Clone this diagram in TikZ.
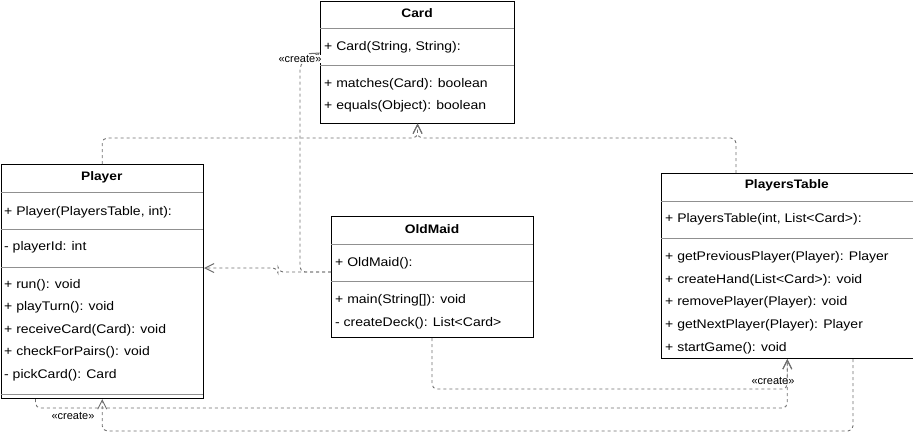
\documentclass[tikz,border=0pt]{standalone}
\usepackage{fontspec}
\setmainfont{Liberation Sans}[FakeStretch=1.12]
\newfontfamily\stereofont{Liberation Sans}
\usepackage{tikz}
\usetikzlibrary{arrows.meta}
\definecolor{linkgray}{HTML}{6E6E6E}
\definecolor{sepgray}{HTML}{909090}

\begin{document}
\begin{tikzpicture}[x=1pt,y=-1pt,
  classbox/.style={draw=black,line width=1pt,inner sep=0pt,anchor=north west},
  sep/.style={draw=sepgray,line width=0.9pt},
  title/.style={inner sep=0pt,font=\fontsize{12.3}{14}\selectfont\bfseries},
  row/.style={inner sep=0pt,anchor=west,text height=9pt,text depth=2.5pt,font=\fontsize{12.5}{14}\selectfont},
  dep/.style={draw=linkgray,line width=0.9pt,dash pattern=on 3pt off 3pt,rounded corners=5pt,
    -{Straight Barb[length=9pt,width=9pt,line width=1pt]}},
  stereo/.style={inner sep=0.5pt,font=\stereofont\fontsize{11}{12}\selectfont}]
\useasboundingbox (0,0) rectangle (913,445);

% Card
\node[classbox,minimum width=194pt,minimum height=122pt] (card) at (320,0.5) {};
\node[title] (card-title) at (417,13) {Card};
\draw[sep] (320,28) -- (514,28);
\draw[sep] (320,65) -- (514,65);
\node[row] (card-c1) at (324,47) {+ Card(String, String):};
\node[row] (card-m1) at (324,84) {+ matches(Card): boolean};
\node[row] (card-m2) at (324,106) {+ equals(Object): boolean};

% Player
\node[classbox,minimum width=202.5pt,minimum height=234pt] (player) at (0.5,164) {};
\node[title] (player-title) at (101.75,177) {Player};
\draw[sep] (0.5,192) -- (203,192);
\draw[sep] (0.5,229) -- (203,229);
\draw[sep] (0.5,267) -- (203,267);
\draw[sep] (0.5,394) -- (203,394);
\node[row] (player-c1) at (4,212) {+ Player(PlayersTable, int):};
\node[row] (player-a1) at (4,247) {- playerId: int};
\node[row] (player-m1) at (4,285) {+ run(): void};
\node[row] (player-m2) at (4,307) {+ playTurn(): void};
\node[row] (player-m3) at (4,330) {+ receiveCard(Card): void};
\node[row] (player-m4) at (4,352) {+ checkForPairs(): void};
\node[row] (player-m5) at (4,375) {- pickCard(): Card};

% OldMaid
\node[classbox,minimum width=202pt,minimum height=121pt] (oldmaid) at (331,216) {};
\node[title] (oldmaid-title) at (432,229) {OldMaid};
\draw[sep] (331,244) -- (533,244);
\draw[sep] (331,281) -- (533,281);
\node[row] (oldmaid-c1) at (335,263) {+ OldMaid():};
\node[row] (oldmaid-m1) at (335,300) {+ main(String[]): void};
\node[row] (oldmaid-m2) at (335,323) {- createDeck(): List<Card>};

% PlayersTable
\node[classbox,minimum width=251.5pt,minimum height=185pt] (table) at (661,173) {};
\node[title] (table-title) at (786.75,185) {PlayersTable};
\draw[sep] (661,201) -- (912.5,201);
\draw[sep] (661,238) -- (912.5,238);
\node[row] (table-c1) at (665,219) {+ PlayersTable(int, List<Card>):};
\node[row] (table-m1) at (665,257) {+ getPreviousPlayer(Player): Player};
\node[row] (table-m2) at (665,280) {+ createHand(List<Card>): void};
\node[row] (table-m3) at (665,302) {+ removePlayer(Player): void};
\node[row] (table-m4) at (665,325) {+ getNextPlayer(Player): Player};
\node[row] (table-m5) at (665,348) {+ startGame(): void};

% dependencies
\draw[dep] (player.north) -- ++(0,-26) -| (card.south);
\draw[dep] ([xshift=75pt]table.north west) -- ++(0,-35) -| (card.south);
\draw[dep] ([yshift=-56pt]oldmaid.north west) -- ++(-53,0) -- ++(0,-4) -- ([yshift=-104pt]player.north east);
\draw[dep] ([yshift=-56pt]oldmaid.north west) -- ++(-31,0) -- ++(0,-208) -- ([yshift=-52pt]card.north west);
\draw[dep] ([xshift=101pt]oldmaid.south west) -- ++(0,51) -| (table.south);
\draw[dep] ([xshift=35pt]player.south west) -- ++(0,9) -| (table.south);
\draw[dep] ([xshift=192pt]table.south west) -- ++(0,72) -| (player.south);

% stereotypes
\node[stereo,fill=white] (create-card) at (300,59) {«create»};
\node[stereo] (create-table) at (773,381) {«create»};
\node[stereo] (create-player) at (73,416) {«create»};
\end{tikzpicture}
\end{document}
